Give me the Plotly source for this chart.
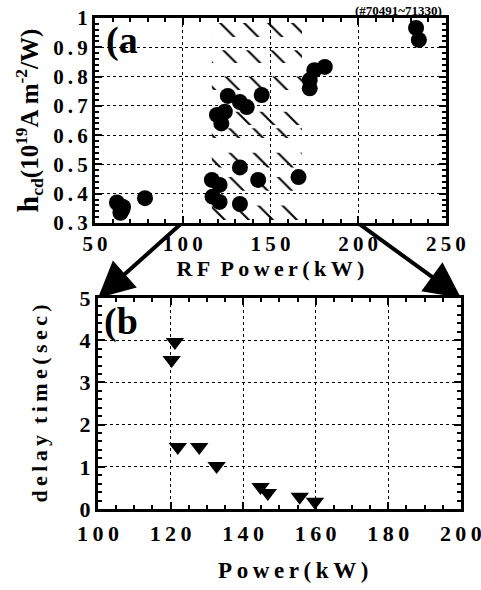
import plotly.graph_objects as go

# Panel (a): current drive efficiency vs RF power
a_power = [62.5, 64, 65.5, 66, 64.5, 78.5, 116.6, 121, 117, 121, 132.6, 132.6, 143, 166,
           125.7, 119.5, 124, 122, 132.6, 136.5, 145, 172.4, 172.4, 175, 181, 233, 234.6]
a_eta = [0.37, 0.36, 0.345, 0.355, 0.335, 0.385, 0.447, 0.43, 0.39, 0.372, 0.49, 0.365, 0.447, 0.457,
         0.734, 0.669, 0.68, 0.64, 0.713, 0.696, 0.737, 0.76, 0.788, 0.822, 0.833, 0.966, 0.925]

# Panel (b): delay time vs power
b_power = [121.2, 120.3, 122, 127.9, 132.7, 144.8, 146.8, 155.6, 159.8]
b_delay = [3.96, 3.53, 1.47, 1.47, 1.02, 0.52, 0.38, 0.29, 0.17]

# tick labels
a_xticks = [50, 100, 150, 200, 250]
a_yticks = [0.3, 0.4, 0.5, 0.6, 0.7, 0.8, 0.9, 1.0]
a_ylabels = ["0.3", "0.4", "0.5", "0.6", "0.7", "0.8", "0.9", "1"]
b_xticks = [100, 120, 140, 160, 180, 200]
b_yticks = [0, 1, 2, 3, 4, 5]

# hatched rows in panel (a)
hatch_x = [116.6, 168]
hatch_rows = [(0.935, 0.983), (0.846, 0.89), (0.754, 0.80), (0.635, 0.68), (0.59, 0.624),
              (0.49, 0.54), (0.41, 0.457), (0.31, 0.36)]

FONT = "Liberation Serif, Times New Roman, serif"
SP = "\u2009"

def spaced(s):
    return "<b>" + SP.join(list(s)) + "</b>"

fig = go.Figure()

for lo, hi in hatch_rows:
    fig.add_trace(go.Scatter(
        x=[hatch_x[0], hatch_x[1], hatch_x[1], hatch_x[0], hatch_x[0]],
        y=[lo, lo, hi, hi, lo], mode="lines", line=dict(width=0),
        fill="toself", fillcolor="rgba(0,0,0,0)",
        fillpattern=dict(shape="\\", size=17, solidity=0.12, fgcolor="black", fgopacity=1,
                         bgcolor="rgba(0,0,0,0)"),
        xaxis="x", yaxis="y", showlegend=False, hoverinfo="skip"))

fig.add_trace(go.Scatter(x=a_power, y=a_eta, mode="markers",
                         marker=dict(symbol="circle", size=16, color="black"),
                         xaxis="x", yaxis="y", showlegend=False))
fig.add_trace(go.Scatter(x=b_power, y=b_delay, mode="markers",
                         marker=dict(symbol="triangle-down", size=16, color="black"),
                         xaxis="x2", yaxis="y2", showlegend=False))

def ax_style(size, **kw):
    d = dict(showline=True, linewidth=3, linecolor="black", mirror="allticks",
             ticks="inside", ticklen=7, tickwidth=1.5, tickcolor="black",
             showgrid=True, gridcolor="black", griddash="dot", gridwidth=1,
             zeroline=False, tickfont=dict(family=FONT, size=size, color="black"),
             fixedrange=True, automargin=False, ticklabeloverflow="allow")
    d.update(kw)
    return d

fig.update_layout(
    width=481, height=590, margin=dict(l=0, r=0, t=0, b=0, autoexpand=False),
    paper_bgcolor="white", plot_bgcolor="white",
    xaxis=ax_style(21, domain=[0.1975, 0.927], anchor="y", range=[50, 250],
                   tickvals=a_xticks, ticktext=[spaced(str(v)) for v in a_xticks],
                   minor=dict(ticks="inside", dtick=10, tick0=50, ticklen=4, tickcolor="black", showgrid=False),
                   title=dict(text="<b>R\u2009F  P\u2009o\u2009w\u2009e\u2009r\u2009(\u2009k\u2009W\u2009)</b>",
                              font=dict(family=FONT, size=22, color="black"), standoff=6)),
    yaxis=ax_style(21, domain=[0.622, 0.9695], anchor="x", range=[0.3, 1],
                   tickvals=a_yticks, ticktext=[spaced(s) for s in a_ylabels],
                   minor=dict(ticks="inside", dtick=0.02, tick0=0.3, ticklen=4, tickcolor="black", showgrid=False),
                   title=dict(text="<b><span style='font-size:30px'>h</span><sub>cd</sub>(10<sup>19</sup>A\u2009m<sup>-2</sup>/W)</b>",
                              font=dict(family=FONT, size=25, color="black"), standoff=8)),
    xaxis2=ax_style(22, domain=[0.2037, 0.958], anchor="y2", range=[100, 200],
                    tickvals=b_xticks, ticktext=[spaced(str(v)) for v in b_xticks],
                    ticklabelstandoff=3,
                    minor=dict(ticks="inside", dtick=5, tick0=100, ticklen=4, tickcolor="black", showgrid=False)),
    yaxis2=ax_style(22, domain=[0.1373, 0.4949], anchor="x2", range=[0, 5],
                    tickvals=b_yticks, ticktext=[spaced(str(v)) for v in b_yticks],
                    minor=dict(ticks="inside", dtick=0.2, tick0=0, ticklen=4, tickcolor="black", showgrid=False),
                    title=dict(text="<b>d\u2009e\u2009l\u2009a\u2009y  t\u2009i\u2009m\u2009e\u2009(\u2009s\u2009e\u2009c\u2009)</b>",
                               font=dict(family=FONT, size=22, color="black"), standoff=26)),
)

anns = [
    dict(text="<b>(#70491~71330)</b>", x=0.924, y=0.998, xref="paper", yref="paper",
         xanchor="right", yanchor="top", showarrow=False, font=dict(family=FONT, size=13, color="black")),
    dict(text="<b>(a</b>", x=104/481, y=1-40/590, xref="paper", yref="paper",
         xanchor="left", yanchor="middle", showarrow=False, font=dict(family=FONT, size=38, color="black")),
    dict(text="<b>(b</b>", x=102/481, y=1-322/590, xref="paper", yref="paper",
         xanchor="left", yanchor="middle", showarrow=False, font=dict(family=FONT, size=38, color="black")),
    dict(text="<b>P\u2009o\u2009w\u2009e\u2009r\u2009(\u2009k\u2009W\u2009)</b>", x=293/481, y=1-570/590,
         xref="paper", yref="paper", xanchor="center", yanchor="middle", showarrow=False,
         font=dict(family=FONT, size=23, color="black")),
    dict(text="", x=98/481, y=1-298/590, xref="paper", yref="paper", ax=84, ay=-75,
         showarrow=True, arrowhead=2, arrowsize=1.8, arrowwidth=4, arrowcolor="black"),
    dict(text="", x=461/481, y=1-298/590, xref="paper", yref="paper", ax=-103, ay=-75,
         showarrow=True, arrowhead=2, arrowsize=1.8, arrowwidth=4, arrowcolor="black"),
]
fig.update_layout(annotations=anns)
fig.write_html("out.html")
